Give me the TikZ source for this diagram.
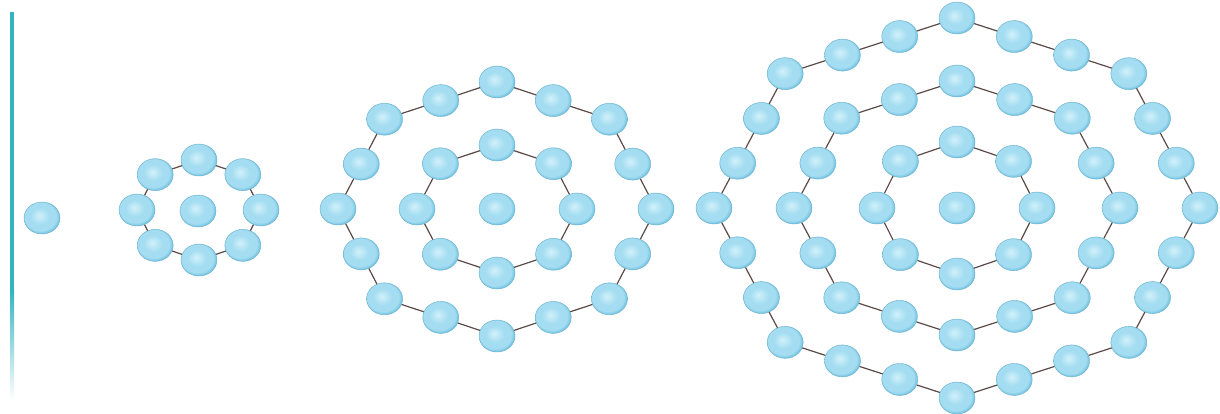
\documentclass[tikz,border=0pt]{standalone}
\usepackage{tikz}
\usetikzlibrary{calc, shapes.geometric}
\definecolor{atomin}{HTML}{D2F1FA}
\definecolor{atommid}{HTML}{A4DDF1}
\definecolor{atomout}{HTML}{76C4E3}
\definecolor{bondcol}{HTML}{5B4A46}
\definecolor{barcol}{HTML}{34B4C0}
\pgfdeclareradialshading{atomshade}{\pgfpoint{-4bp}{4bp}}{%
  color(0bp)=(atomin); color(13bp)=(atommid); color(22bp)=(atommid);
  color(26bp)=(atomout); color(50bp)=(atomout)}
\tikzset{
  atom/.style={
    ellipse,
    shading=atomshade,
    draw=atomout!90!black,
    line width=0.4pt,
    minimum width=36pt,
    minimum height=32pt,
    inner sep=0pt
  },
  bond/.style={
    draw=bondcol,
    line width=1.2pt
  }
}
% 一圈原子: #1 名称前缀, (#2,#3) 中心, #4 #5 半轴, #6 每边个数
\newcommand{\atomring}[6]{%
  \pgfmathtruncatemacro{\nball}{8*#6}
  \foreach \e in {0,...,7}{
    \foreach \i in {1,...,#6}{
      \pgfmathsetmacro{\tpos}{(\i-1)/#6}
      \pgfmathtruncatemacro{\idx}{\e*#6+\i-1}
      \node[atom] (#1-\idx) at ($({#2+#4*cos(45*\e)},{#3+#5*sin(45*\e)})!\tpos!({#2+#4*cos(45*\e+45)},{#3+#5*sin(45*\e+45)})$) {};
    }
  }
  \foreach \k in {1,...,\nball}{
    \pgfmathtruncatemacro{\cur}{\k-1}
    \pgfmathtruncatemacro{\nxt}{mod(\k,\nball)}
    \draw[bond] (#1-\cur) -- (#1-\nxt);
  }
}

\begin{document}
\begin{tikzpicture}[x=1pt, y=-1pt]
    \useasboundingbox[fill=white] (0,0) rectangle (1220,413);

    % 1. 左边的竖线
    \fill[barcol] (10,12) rectangle (14,290);
    \shade[top color=barcol, bottom color=white] (10,290) rectangle (14,400);

    % 2. 单个原子
    \node[atom] (s1) at (42,218) {};

    % 3. 一圈 8 个
    \node[atom] (s2c) at (198,211) {};
    \atomring{s2r1}{199}{210}{62}{50}{1}

    % 4. 两圈
    \node[atom] (s3c) at (497,209) {};
    \atomring{s3r1}{497}{209}{80}{64}{1}
    \atomring{s3r2}{497}{209}{159}{127}{2}

    % 5. 三圈
    \node[atom] (s4c) at (957,208) {};
    \atomring{s4r1}{957}{208}{80}{66}{1}
    \atomring{s4r2}{957}{208}{163}{127}{2}
    \atomring{s4r3}{957}{208}{243}{190}{3}

\end{tikzpicture}
\end{document}
